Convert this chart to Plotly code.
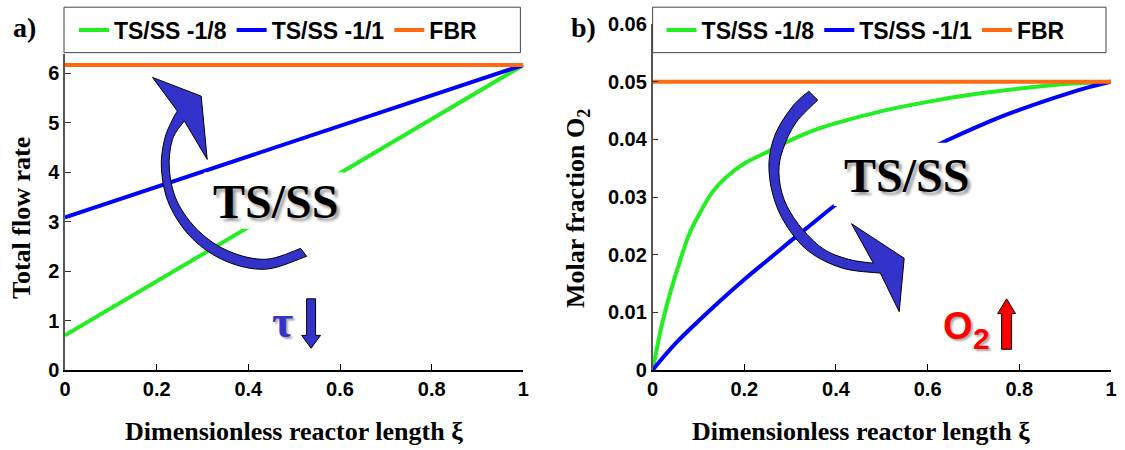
import plotly.graph_objects as go

# ---- data -------------------------------------------------------------
# a) total flow rate along the reactor
xi_flow = [0.0, 1.0]
flow_ts_1_8 = [0.70, 6.17]
flow_ts_1_1 = [3.09, 6.17]
flow_fbr = [6.17, 6.17]

# b) molar fraction of O2 along the reactor
xi_o2_18 = [0, 0.01, 0.02, 0.04, 0.06, 0.08, 0.10, 0.13, 0.16, 0.20, 0.25,
            0.30, 0.35, 0.40, 0.50, 0.60, 0.70, 0.80, 0.90, 1.0]
o2_ts_1_8 = [0, 0.0040, 0.0078, 0.0138, 0.0190, 0.0236, 0.0268, 0.0308,
             0.0334, 0.0358, 0.0378, 0.0398, 0.0415, 0.0428, 0.0449, 0.0465,
             0.0478, 0.0488, 0.0496, 0.0500]
xi_o2_11 = [0, 0.05, 0.10, 0.15, 0.20, 0.25, 0.30, 0.35, 0.40, 0.45, 0.50,
            0.55, 0.60, 0.65, 0.70, 0.75, 0.80, 0.85, 0.90, 0.95, 1.0]
o2_ts_1_1 = [0, 0.0046, 0.0085, 0.0122, 0.0157, 0.0190, 0.0223, 0.0255,
             0.0287, 0.0315, 0.0340, 0.0363, 0.0382, 0.0401, 0.0419, 0.0436,
             0.0451, 0.0465, 0.0478, 0.0490, 0.0500]
xi_fbr = [0.0, 1.0]
o2_fbr = [0.05, 0.05]

x_ticks = [0, 0.2, 0.4, 0.6, 0.8, 1.0]
x_ticktext = ["0", "0.2", "0.4", "0.6", "0.8", "1"]
y2_ticks = [0, 0.01, 0.02, 0.03, 0.04, 0.05, 0.06]
y2_ticktext = ["0", "0.01", "0.02", "0.03", "0.04", "0.05", "0.06"]

series_names = ["TS/SS -1/8", "TS/SS -1/1", "FBR"]
series_colors = ["#22ee22", "#0000ff", "#ff6a10"]

# ---- page geometry (pixels) ------------------------------------------
W, H = 1125, 450
ML, MR, MT, MB = 65, 8, 20, 80
PW = W - ML - MR
PH = H - MT - MB


def px(x, y):
    """Pixel position on the page -> paper coordinates."""
    return (x - ML) / PW, (H - MB - y) / PH


def pt(x, y):
    a, b = px(x, y)
    return f"{a:.5f},{b:.5f}"


def smooth(points):
    """Catmull-Rom curve through points as cubic Bezier commands (no initial M)."""
    pts = [px(*p) for p in points]
    out = []
    for i in range(len(pts) - 1):
        p0 = pts[i - 1] if i > 0 else pts[i]
        p1 = pts[i]
        p2 = pts[i + 1]
        p3 = pts[i + 2] if i + 2 < len(pts) else pts[i + 1]
        c1 = (p1[0] + (p2[0] - p0[0]) / 6, p1[1] + (p2[1] - p0[1]) / 6)
        c2 = (p2[0] - (p3[0] - p1[0]) / 6, p2[1] - (p3[1] - p1[1]) / 6)
        out.append(f"C{c1[0]:.5f},{c1[1]:.5f} {c2[0]:.5f},{c2[1]:.5f} {p2[0]:.5f},{p2[1]:.5f}")
    return " ".join(out)


def curved_arrow(outer, head, inner):
    """Outline of a bent block arrow: outer edge, arrow head, inner edge back."""
    path = "M" + pt(*outer[0]) + " " + smooth(outer)
    for p in head:
        path += " L" + pt(*p)
    path += " L" + pt(*inner[-1]) + " " + smooth(inner[::-1]) + " Z"
    return path


def polygon(points):
    return "M" + " L".join(pt(*p) for p in points) + " Z"


fig = go.Figure()

for name, color, ys in zip(series_names, series_colors,
                           [flow_ts_1_8, flow_ts_1_1, flow_fbr]):
    fig.add_trace(go.Scatter(
        x=xi_flow, y=ys, mode="lines", name=name,
        line=dict(color=color, width=4), xaxis="x", yaxis="y",
        legend="legend"))

for name, color, xs, ys in zip(series_names, series_colors,
                               [xi_o2_18, xi_o2_11, xi_fbr],
                               [o2_ts_1_8, o2_ts_1_1, o2_fbr]):
    fig.add_trace(go.Scatter(
        x=xs, y=ys, mode="lines", name=name,
        line=dict(color=color, width=4, shape="spline", smoothing=1),
        xaxis="x2", yaxis="y2", legend="legend2"))

tick_font = dict(family="Liberation Sans", size=20, color="black", weight="bold")
axis_common = dict(showgrid=False, zeroline=False, showline=True,
                   ticks="inside", ticklen=6, tickwidth=1, tickfont=tick_font)

right_dom = [px(656, 0)[0], 1.0]
legend_font = dict(family="Liberation Sans", size=23, color="black",
                   weight="bold")

fig.update_layout(
    width=W, height=H, autosize=False,
    margin=dict(l=ML, r=MR, t=MT, b=MB),
    paper_bgcolor="white", plot_bgcolor="white",
    xaxis=dict(domain=[0, px(526, 0)[0]], range=[0, 1], tickvals=x_ticks,
               ticktext=x_ticktext, anchor="y", linecolor="black",
               linewidth=1.5, tickcolor="black", **axis_common),
    yaxis=dict(domain=[0, (370 - 50) / PH], range=[0, 6.4], dtick=1,
               anchor="x", linecolor="#555", linewidth=1.5,
               tickcolor="#333", **axis_common),
    xaxis2=dict(domain=right_dom, range=[0, 1], tickvals=x_ticks,
                ticktext=x_ticktext, anchor="y2", linecolor="black",
                linewidth=1.5, tickcolor="black", **axis_common),
    yaxis2=dict(domain=[0, 1], range=[0, 0.06], tickvals=y2_ticks,
                ticktext=y2_ticktext, anchor="x2", linecolor="#555",
                linewidth=1.5, tickcolor="#333", **axis_common),
    legend=dict(orientation="h", x=px(74, 0)[0], y=px(0, 26)[1],
                xanchor="left", yanchor="middle", bgcolor="rgba(0,0,0,0)",
                borderwidth=0, itemwidth=30, font=legend_font),
    legend2=dict(orientation="h", x=px(665, 0)[0], y=px(0, 26)[1],
                 xanchor="left", yanchor="middle", bgcolor="rgba(0,0,0,0)",
                 borderwidth=0, itemwidth=30, font=legend_font),
)

shapes = []
# legend frames
for x0, x1 in [(64, 523), (656, 1112)]:
    a0, b0 = px(x0, 49)
    a1, b1 = px(x1, 3)
    shapes.append(dict(type="rect", xref="paper", yref="paper", x0=a0, y0=b0,
                       x1=a1, y1=b1, fillcolor="white",
                       line=dict(color="#444", width=1), layer="above"))
# white panels behind the "TS/SS" captions
for x0, y0, x1, y1 in [(205, 227, 345, 170), (838, 204, 988, 140)]:
    a0, b0 = px(x0, y0)
    a1, b1 = px(x1, y1)
    shapes.append(dict(type="rect", xref="paper", yref="paper", x0=a0, y0=b0,
                       x1=a1, y1=b1, fillcolor="white",
                       line=dict(width=0), layer="above"))

arrow_fill = "#3333cc"
# bent arrow in panel a (pointing up)
left_outer = [(308, 255), (267, 268), (227, 260), (193, 237), (170, 203),
              (162, 167), (165, 137), (173, 117), (178, 108)]
left_head = [(153, 74), (202, 93), (208, 157)]
left_inner = [(302, 247), (267, 258), (230, 250), (200, 230), (178, 200),
              (170, 167), (173, 137), (185, 118)]
shapes.append(dict(type="path", xref="paper", yref="paper",
                   path=curved_arrow(left_outer, left_head, left_inner),
                   fillcolor=arrow_fill, line=dict(color="black", width=1),
                   layer="above"))
# bent arrow in panel b (pointing down)
right_outer = [(813, 88), (797, 103), (780, 130), (773, 160), (777, 193),
               (790, 223), (813, 250), (847, 267), (885, 272)]
right_head = [(904, 311), (909, 257), (856, 222)]
right_inner = [(822, 97), (800, 120), (787, 147), (783, 170), (788, 197),
               (803, 223), (827, 247), (853, 258), (878, 262)]
shapes.append(dict(type="path", xref="paper", yref="paper",
                   path=curved_arrow(right_outer, right_head, right_inner),
                   fillcolor=arrow_fill, line=dict(color="black", width=1),
                   layer="above"))
# small straight arrows
shapes.append(dict(type="path", xref="paper", yref="paper",
                   path=polygon([(308, 298), (317, 298), (317, 335), (322, 335),
                                 (312.5, 348), (303, 335), (308, 335)]),
                   fillcolor=arrow_fill, line=dict(color="black", width=1),
                   layer="above"))
shapes.append(dict(type="path", xref="paper", yref="paper",
                   path=polygon([(1007, 349), (1017, 349), (1017, 313),
                                 (1021, 313), (1012, 298), (1003, 313),
                                 (1007, 313)]),
                   fillcolor="#ff0000", line=dict(color="black", width=1),
                   layer="above"))
fig.update_layout(shapes=shapes)


def note(text, x, y, size, family="Liberation Serif", color="black",
         angle=0, shadow=None, weight="bold"):
    a, b = px(x, y)
    font = dict(family=family, size=size, color=color, weight=weight)
    if shadow:
        font["shadow"] = shadow
    fig.add_annotation(text=text, x=a, y=b, xref="paper", yref="paper",
                       xanchor="center", yanchor="middle", showarrow=False,
                       textangle=angle, font=font)


note("a)", 24, 24, 28)
note("b)", 586, 24, 28)
note("Total flow rate", 22, 216, 26, angle=-90)
note("Molar fraction O<sub>2</sub>", 580, 207, 26, angle=-90)
note("Dimensionless reactor length ξ", 295, 432, 26)
note("Dimensionless reactor length ξ", 866, 432, 26)
note("TS/SS", 277, 200, 48, shadow="3px 3px 3px #999")
note("TS/SS", 911, 173, 48, shadow="3px 3px 3px #999")
note("τ", 284, 321, 46, family="Liberation Serif", color=arrow_fill,
     shadow="2px 2px 2px #aaa")
note("O", 963, 325, 38, family="Liberation Sans", color="#ff0000",
     shadow="2px 2px 2px #aaa")
note("2", 987, 338, 30, family="Liberation Sans", color="#ff0000",
     shadow="2px 2px 2px #aaa")

fig.write_html("out.html")
